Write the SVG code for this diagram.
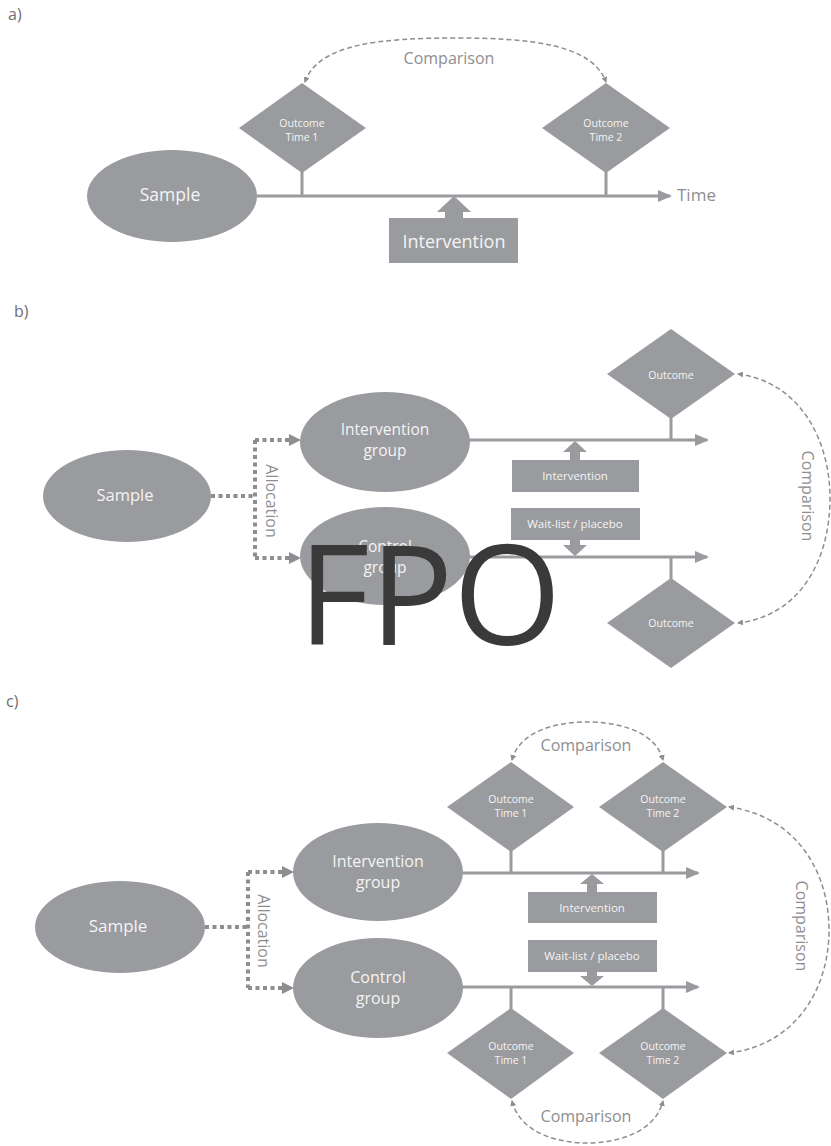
<svg xmlns="http://www.w3.org/2000/svg" width="831" height="1146" viewBox="0 0 831 1146">
<defs>
<style>
.shape{fill:#9a9b9e}
.txt{font-family:"Open Sans","Liberation Sans",sans-serif;fill:#f4f4f4;text-anchor:middle}
.lbl{font-family:"Open Sans","Liberation Sans",sans-serif;fill:#8e8e90}
.panel{font-family:"Open Sans","Liberation Sans",sans-serif;fill:#6e6e70;font-size:16px}
.tl{stroke:#9a9b9e;stroke-width:3;fill:none}
.dash{stroke:#8e8e90;stroke-width:1.5;stroke-dasharray:5 3;fill:none}
.dot{stroke:#8e8e90;stroke-width:4;stroke-dasharray:4 3.5;fill:none}
</style>
<marker id="ah" markerWidth="6" markerHeight="6" refX="5" refY="3" orient="auto-start-reverse" markerUnits="userSpaceOnUse" viewBox="0 0 6 6">
<path d="M0,0 L6,3 L0,6 z" fill="#8e8e90"/>
</marker>
<marker id="ta" markerWidth="14" markerHeight="12" refX="12" refY="6" orient="auto" markerUnits="userSpaceOnUse" viewBox="0 0 14 12">
<path d="M0,0 L14,6 L0,12 z" fill="#9a9b9e"/>
</marker>
<marker id="da" markerWidth="12" markerHeight="12" refX="11" refY="6" orient="auto" markerUnits="userSpaceOnUse" viewBox="0 0 12 12">
<path d="M0,0 L12,6 L0,12 z" fill="#8e8e90"/>
</marker>
</defs>
<rect width="831" height="1146" fill="#ffffff"/>

<!-- Panel a -->
<text class="panel" x="8" y="20">a)</text>
<g id="a-connectors">
<line class="tl" x1="256" y1="196" x2="670" y2="196" marker-end="url(#ta)"/>
<line class="tl" x1="302" y1="172" x2="302" y2="196"/>
<line class="tl" x1="606" y1="172" x2="606" y2="196"/>
<path class="shape" d="M454,196 L471,212 L463,212 L463,219 L445,219 L445,212 L437,212 z"/>
<path class="dash" d="M305,82 C318,44 380,38 455,38 C530,38 592,44 606,82" marker-start="url(#ah)" marker-end="url(#ah)"/>
<text class="lbl" x="449" y="64" font-size="16" text-anchor="middle">Comparison</text>
<text class="lbl" x="677" y="201" font-size="17">Time</text>
</g>
<g id="a-sample"><ellipse class="shape" cx="172" cy="196" rx="85" ry="46"/><text class="txt" x="170" y="201" font-size="17.5">Sample</text></g>
<g id="a-out1"><polygon class="shape" points="302,83 366,128 302,173 239,128"/><text class="txt" x="302" y="127" font-size="10.5">Outcome</text><text class="txt" x="302" y="141" font-size="10.5">Time 1</text></g>
<g id="a-out2"><polygon class="shape" points="606,83 670,128 606,173 542,128"/><text class="txt" x="606" y="127" font-size="10.5">Outcome</text><text class="txt" x="606" y="141" font-size="10.5">Time 2</text></g>
<g id="a-intervention"><rect class="shape" x="389" y="218" width="129" height="45"/><text class="txt" x="454" y="248" font-size="18">Intervention</text></g>

<!-- Panel b -->
<text class="panel" x="14" y="317">b)</text>
<g id="b-connectors">
<path class="dot" d="M211,496 L255,496"/>
<path class="dot" d="M255,440 L255,558"/>
<path class="dot" d="M255,440 L300,440" marker-end="url(#da)"/>
<path class="dot" d="M255,558 L300,558" marker-end="url(#da)"/>
<text class="lbl" font-size="16" text-anchor="middle" transform="translate(266,501) rotate(90)">Allocation</text>
<line class="tl" x1="469" y1="440" x2="707" y2="440" marker-end="url(#ta)"/>
<line class="tl" x1="469" y1="557" x2="707" y2="557" marker-end="url(#ta)"/>
<line class="tl" x1="671" y1="418" x2="671" y2="440"/>
<line class="tl" x1="671" y1="557" x2="671" y2="579"/>
<path class="shape" d="M575,441 L587,452 L580,452 L580,461 L570,461 L570,452 L563,452 z"/>
<path class="shape" d="M575,556 L587,545 L580,545 L580,539 L570,539 L570,545 L563,545 z"/>
<path class="dash" d="M738,374 C800,382 830,440 830,498 C830,560 800,616 738,623" marker-start="url(#ah)" marker-end="url(#ah)"/>
<text class="lbl" font-size="16" text-anchor="middle" transform="translate(802,496) rotate(90)">Comparison</text>
</g>
<g id="b-sample"><ellipse class="shape" cx="127" cy="496" rx="84" ry="46"/><text class="txt" x="125" y="501" font-size="16.5">Sample</text></g>
<g id="b-igroup"><ellipse class="shape" cx="385" cy="442" rx="85" ry="50"/><text class="txt" x="385" y="435" font-size="15.5">Intervention</text><text class="txt" x="385" y="456" font-size="15.5">group</text></g>
<g id="b-cgroup"><ellipse class="shape" cx="385" cy="556" rx="85" ry="49"/><text class="txt" x="385" y="552" font-size="15.5">Control</text><text class="txt" x="385" y="573" font-size="15.5">group</text></g>
<g id="b-out1"><polygon class="shape" points="671,329 735,374 671,419 607,374"/><text class="txt" x="671" y="379" font-size="10.5">Outcome</text></g>
<g id="b-out2"><polygon class="shape" points="671,578 735,623 671,668 607,623"/><text class="txt" x="671" y="627" font-size="10.5">Outcome</text></g>
<g id="b-intervention"><rect class="shape" x="512" y="460" width="127" height="32"/><text class="txt" x="575" y="480" font-size="11.5">Intervention</text></g>
<g id="b-waitlist"><rect class="shape" x="511" y="508" width="129" height="32"/><text class="txt" x="575" y="528" font-size="11.5">Wait-list / placebo</text></g>
<g id="fpo"><text x="298" y="645" font-family="'Open Sans','Liberation Sans',sans-serif" font-size="139" fill="#3a3a3a">FPO</text></g>

<!-- Panel c -->
<text class="panel" x="6" y="707">c)</text>
<g id="c-connectors">
<path class="dot" d="M205,927 L248,927"/>
<path class="dot" d="M248,872 L248,988"/>
<path class="dot" d="M248,872 L293,872" marker-end="url(#da)"/>
<path class="dot" d="M248,988 L293,988" marker-end="url(#da)"/>
<text class="lbl" font-size="16" text-anchor="middle" transform="translate(258,931) rotate(90)">Allocation</text>
<line class="tl" x1="462" y1="873" x2="698" y2="873" marker-end="url(#ta)"/>
<line class="tl" x1="462" y1="987" x2="698" y2="987" marker-end="url(#ta)"/>
<line class="tl" x1="511" y1="851" x2="511" y2="873"/>
<line class="tl" x1="663" y1="851" x2="663" y2="873"/>
<line class="tl" x1="511" y1="987" x2="511" y2="1009"/>
<line class="tl" x1="663" y1="987" x2="663" y2="1009"/>
<path class="shape" d="M592,874 L604,884 L597,884 L597,893 L587,893 L587,884 L580,884 z"/>
<path class="shape" d="M592,986 L604,976 L597,976 L597,971 L587,971 L587,976 L580,976 z"/>
<path class="dash" d="M512,760 C520,730 558,722 587,722 C616,722 655,730 663,760" marker-start="url(#ah)" marker-end="url(#ah)"/>
<text class="lbl" x="586" y="751" font-size="16" text-anchor="middle">Comparison</text>
<path class="dash" d="M512,1101 C520,1133 558,1143 587,1143 C616,1143 655,1133 663,1101" marker-start="url(#ah)" marker-end="url(#ah)"/>
<text class="lbl" x="586" y="1122" font-size="16" text-anchor="middle">Comparison</text>
<path class="dash" d="M729,807 C795,816 829,870 829,930 C829,990 795,1045 729,1053" marker-start="url(#ah)" marker-end="url(#ah)"/>
<text class="lbl" font-size="16" text-anchor="middle" transform="translate(796,926) rotate(90)">Comparison</text>
</g>
<g id="c-sample"><ellipse class="shape" cx="120" cy="927" rx="85" ry="46"/><text class="txt" x="118" y="932" font-size="17">Sample</text></g>
<g id="c-igroup"><ellipse class="shape" cx="378" cy="872" rx="85" ry="49"/><text class="txt" x="378" y="867" font-size="16">Intervention</text><text class="txt" x="378" y="888" font-size="16">group</text></g>
<g id="c-cgroup"><ellipse class="shape" cx="378" cy="988" rx="85" ry="50"/><text class="txt" x="378" y="983" font-size="16">Control</text><text class="txt" x="378" y="1004" font-size="16">group</text></g>
<g id="c-out1u"><polygon class="shape" points="511,762 574,807 511,852 447,807"/><text class="txt" x="511" y="803" font-size="10.5">Outcome</text><text class="txt" x="511" y="817" font-size="10.5">Time 1</text></g>
<g id="c-out2u"><polygon class="shape" points="663,762 727,807 663,852 599,807"/><text class="txt" x="663" y="803" font-size="10.5">Outcome</text><text class="txt" x="663" y="817" font-size="10.5">Time 2</text></g>
<g id="c-out1l"><polygon class="shape" points="511,1008 574,1053 511,1099 447,1053"/><text class="txt" x="511" y="1050" font-size="10.5">Outcome</text><text class="txt" x="511" y="1064" font-size="10.5">Time 1</text></g>
<g id="c-out2l"><polygon class="shape" points="663,1008 727,1053 663,1099 599,1053"/><text class="txt" x="663" y="1050" font-size="10.5">Outcome</text><text class="txt" x="663" y="1064" font-size="10.5">Time 2</text></g>
<g id="c-intervention"><rect class="shape" x="528" y="892" width="129" height="31"/><text class="txt" x="592" y="912" font-size="11.5">Intervention</text></g>
<g id="c-waitlist"><rect class="shape" x="528" y="940" width="129" height="32"/><text class="txt" x="592" y="960" font-size="11.5">Wait-list / placebo</text></g>
</svg>
